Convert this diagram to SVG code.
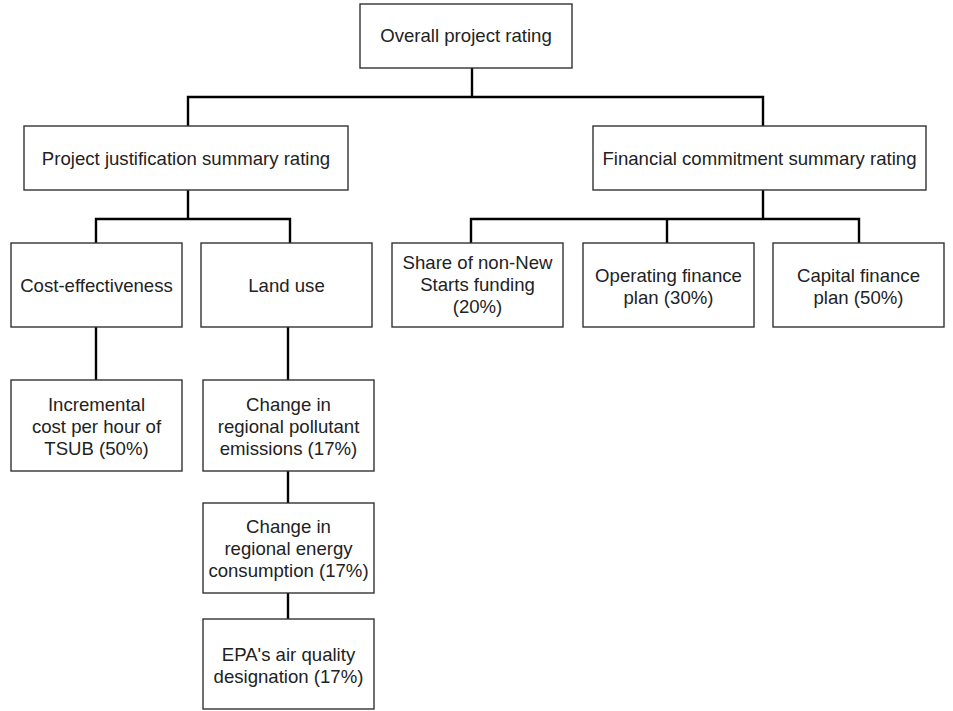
<svg xmlns="http://www.w3.org/2000/svg" width="953" height="711" viewBox="0 0 953 711">
<style>
.box{fill:#fff;stroke:#333;stroke-width:1.4}
.lbl{font-family:"Liberation Sans",Arial,sans-serif;font-size:18.6px;fill:#222;text-anchor:middle}
.conn{fill:none;stroke:#000;stroke-width:2.4;stroke-linejoin:miter}
</style>
<rect width="953" height="711" fill="#fff"/>
<g id="connectors">
<path class="conn" d="M472,68 V97"/>
<path class="conn" d="M188,126 V97 H763 V126"/>
<path class="conn" d="M188,190 V219"/>
<path class="conn" d="M96,243 V219 H290 V243"/>
<path class="conn" d="M763,190 V219"/>
<path class="conn" d="M471,243 V219 H859 V243"/>
<path class="conn" d="M667,219 V243"/>
<path class="conn" d="M96,327 V380"/>
<path class="conn" d="M288,327 V380"/>
<path class="conn" d="M288,471 V503"/>
<path class="conn" d="M288,593 V619"/>
</g>
<g id="overall">
<rect class="box" x="360" y="4" width="212" height="64"/>
<text class="lbl" x="466" y="42">Overall project rating</text>
</g>
<g id="project-justification">
<rect class="box" x="24" y="126" width="324" height="64"/>
<text class="lbl" x="186" y="165">Project justification summary rating</text>
</g>
<g id="financial-commitment">
<rect class="box" x="593" y="126" width="333" height="64"/>
<text class="lbl" x="759.5" y="165">Financial commitment summary rating</text>
</g>
<g id="cost-effectiveness">
<rect class="box" x="11" y="243" width="171" height="84"/>
<text class="lbl" x="96.5" y="292">Cost-effectiveness</text>
</g>
<g id="land-use">
<rect class="box" x="201" y="243" width="171" height="84"/>
<text class="lbl" x="286.5" y="292">Land use</text>
</g>
<g id="share-non-new-starts">
<rect class="box" x="392" y="243" width="171" height="84"/>
<text class="lbl" x="477.5" y="269">Share of non-New</text>
<text class="lbl" x="477.5" y="291">Starts funding</text>
<text class="lbl" x="477.5" y="313">(20%)</text>
</g>
<g id="operating-finance">
<rect class="box" x="583" y="243" width="171" height="84"/>
<text class="lbl" x="668.5" y="282">Operating finance</text>
<text class="lbl" x="668.5" y="304">plan (30%)</text>
</g>
<g id="capital-finance">
<rect class="box" x="773" y="243" width="171" height="84"/>
<text class="lbl" x="858.5" y="282">Capital finance</text>
<text class="lbl" x="858.5" y="304">plan (50%)</text>
</g>
<g id="incremental-cost">
<rect class="box" x="11" y="380" width="171" height="91"/>
<text class="lbl" x="96.5" y="411">Incremental</text>
<text class="lbl" x="96.5" y="433">cost per hour of</text>
<text class="lbl" x="96.5" y="455">TSUB (50%)</text>
</g>
<g id="pollutant-emissions">
<rect class="box" x="203" y="380" width="171" height="91"/>
<text class="lbl" x="288.5" y="411">Change in</text>
<text class="lbl" x="288.5" y="433">regional pollutant</text>
<text class="lbl" x="288.5" y="455">emissions (17%)</text>
</g>
<g id="energy-consumption">
<rect class="box" x="203" y="503" width="171" height="90"/>
<text class="lbl" x="288.5" y="533">Change in</text>
<text class="lbl" x="288.5" y="555">regional energy</text>
<text class="lbl" x="288.5" y="577">consumption (17%)</text>
</g>
<g id="air-quality">
<rect class="box" x="203" y="619" width="171" height="90"/>
<text class="lbl" x="288.5" y="661">EPA's air quality</text>
<text class="lbl" x="288.5" y="683">designation (17%)</text>
</g>
</svg>
